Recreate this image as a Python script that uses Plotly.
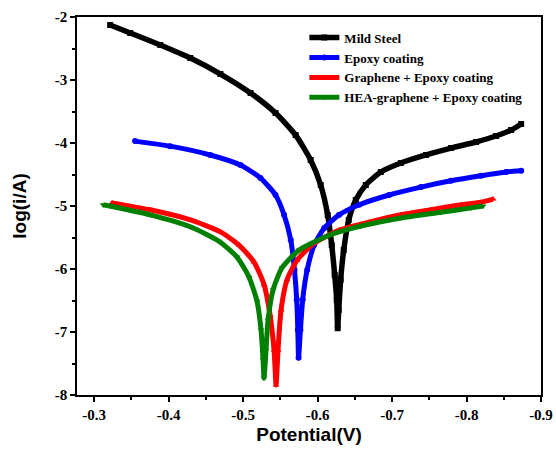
import plotly.graph_objects as go

# Mild Steel
ms_x = [-0.3215, -0.3485, -0.3888, -0.4292, -0.4696, -0.510, -0.5436, -0.5705, -0.5907, -0.6042,
        -0.6136, -0.619, -0.623, -0.6257, -0.627,
        -0.6284, -0.631, -0.6351, -0.6419, -0.6513, -0.6647, -0.6849, -0.7118, -0.7455, -0.7791,
        -0.8128, -0.8397, -0.86, -0.8734]
ms_y = [-2.127, -2.254, -2.444, -2.651, -2.905, -3.206, -3.524, -3.873, -4.27, -4.667,
        -5.143, -5.62, -6.095, -6.49, -6.94,
        -6.65, -6.17, -5.70, -5.22, -4.905, -4.667, -4.46, -4.317, -4.19, -4.08,
        -3.984, -3.889, -3.794, -3.698]

# Epoxy coating
ep_x = [-0.355, -0.402, -0.456, -0.4965, -0.5234, -0.5436, -0.555, -0.564, -0.569, -0.572, -0.5735, -0.5745,
        -0.577, -0.580, -0.586, -0.5954, -0.609, -0.629, -0.656, -0.696, -0.7388, -0.779, -0.8195, -0.8532, -0.8734]
ep_y = [-3.97, -4.05, -4.19, -4.35, -4.556, -4.825, -5.14, -5.54, -6.016, -6.49, -6.97, -7.41,
        -6.97, -6.49, -6.016, -5.62, -5.35, -5.14, -4.98, -4.825, -4.70, -4.60, -4.52, -4.46, -4.44]

# Graphene + Epoxy coating
gr_x = [-0.3242, -0.3754, -0.4292, -0.4696, -0.4945, -0.5147, -0.5282, -0.5362, -0.5416, -0.5443,
        -0.5469, -0.551, -0.559, -0.5725, -0.5954, -0.630, -0.6715, -0.7118, -0.7522, -0.7926, -0.8195, -0.8357]
gr_y = [-4.95, -5.06, -5.22, -5.41, -5.62, -5.89, -6.25, -6.73, -7.29, -7.84,
        -7.29, -6.65, -6.17, -5.86, -5.59, -5.38, -5.25, -5.14, -5.06, -4.98, -4.94, -4.89]

# HEA-graphene + Epoxy coating
hg_x = [-0.3121, -0.3754, -0.4292, -0.4676, -0.4918, -0.508, -0.5187, -0.5241, -0.5268, -0.5281,
        -0.5308, -0.5335, -0.5403, -0.5524, -0.5753, -0.6166, -0.658, -0.7118, -0.7657, -0.806, -0.8222]
hg_y = [-4.98, -5.14, -5.33, -5.56, -5.81, -6.13, -6.51, -6.97, -7.44, -7.73,
        -7.29, -6.81, -6.33, -5.98, -5.70, -5.46, -5.32, -5.19, -5.10, -5.03, -5.0]

x_ticks = [-0.3, -0.4, -0.5, -0.6, -0.7, -0.8, -0.9]
x_labels = ["-0.3", "-0.4", "-0.5", "-0.6", "-0.7", "-0.8", "-0.9"]
y_ticks = [-2, -3, -4, -5, -6, -7, -8]
y_labels = ["-2", "-3", "-4", "-5", "-6", "-7", "-8"]

series = [
    ("Mild Steel", ms_x, ms_y, "#000000", "square", 5.5),
    ("Epoxy coating", ep_x, ep_y, "#0000FF", "circle", 5),
    ("Graphene + Epoxy coating", gr_x, gr_y, "#FF0000", "triangle-up", 5),
    ("HEA-graphene + Epoxy coating", hg_x, hg_y, "#008000", "triangle-down", 5),
]

fig = go.Figure()
for name, x, y, c, sym, w in series:
    fig.add_trace(go.Scatter(
        x=x, y=y, name="<b>" + name + "</b>", mode="lines+markers",
        line=dict(color=c, width=w, shape="spline", smoothing=0.6),
        marker=dict(color=c, symbol=sym, size=6),
    ))

serif = "Liberation Serif"
fig.update_layout(
    width=556, height=458,
    margin=dict(l=77, r=15, t=17, b=63, autoexpand=False),
    plot_bgcolor="white", paper_bgcolor="white",
    showlegend=True,
    legend=dict(x=0.49, y=0.985, xanchor="left", yanchor="top",
                bgcolor="rgba(0,0,0,0)", font=dict(family=serif, size=13, color="black"),
                itemwidth=30, tracegroupgap=0),
    font=dict(family=serif, color="black"),
)
fig.update_xaxes(
    range=[-0.277, -0.9], tickvals=x_ticks,
    ticktext=["<b>" + t + "</b>" for t in x_labels],
    ticks="outside", ticklen=5, tickwidth=1.5, tickcolor="black",
    minor=dict(ticks="outside", ticklen=3, dtick=0.05, tickcolor="black"),
    showline=True, linecolor="black", linewidth=1.5, mirror=True,
    showgrid=False, zeroline=False,
    tickfont=dict(family=serif, size=15, color="black"),
    title=dict(text="<b>Potential(V)</b>", font=dict(family="Liberation Sans", size=19, color="black"), standoff=6),
)
fig.update_yaxes(
    range=[-8, -2], tickvals=y_ticks,
    ticktext=["<b>" + t + "</b>" for t in y_labels],
    ticks="outside", ticklen=5, tickwidth=1.5, tickcolor="black",
    minor=dict(ticks="outside", ticklen=3, dtick=0.5, tickcolor="black"),
    showline=True, linecolor="black", linewidth=1.5, mirror=True,
    showgrid=False, zeroline=False,
    tickfont=dict(family=serif, size=15, color="black"),
    title=dict(text="<b>log(i/A)</b>", font=dict(family="Liberation Sans", size=19, color="black"), standoff=23),
)
fig.write_html("out.html",
               config={"displayModeBar": False},
               post_script="document.body.style.margin='0';document.body.style.overflow='hidden';")
